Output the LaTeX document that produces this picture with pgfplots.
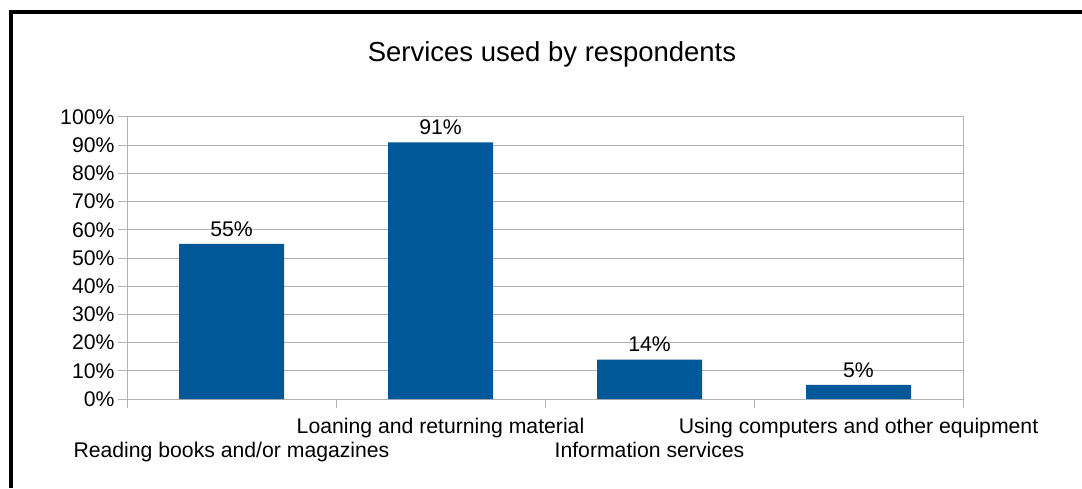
\documentclass[border=0pt]{standalone}
\usepackage{fontspec}
\setmainfont{Liberation Sans}
\usepackage{pgfplots}
\pgfplotsset{compat=1.18}
\definecolor{barblue}{RGB}{0,88,152}
\definecolor{gridgray}{RGB}{179,179,179}
\begin{document}
\begin{tikzpicture}[x=1pt,y=1pt]
\useasboundingbox (0,0) rectangle (1082,488);
\draw[line width=4pt] (10.5,0) -- (10.5,476) -- (1082,476);
\node[font=\fontsize{27.5}{32}\selectfont, anchor=base] at (552,426) {Services used by respondents};
\begin{axis}[
  at={(127pt,89pt)}, anchor=south west,
  scale only axis, width=836pt, height=282pt,
  xmin=-0.5, xmax=3.5, ymin=0, ymax=100,
  axis line style={gridgray, line width=1pt},
  ytick={0,10,...,100},
  yticklabel={\pgfmathprintnumber{\tick}\%},
  /pgf/number format/assume math mode=true,
  ymajorgrids, grid style={gridgray, line width=1pt},
  tick align=outside, ytick pos=left, xtick pos=bottom,
  major tick length=9pt,
  tick style={gridgray, line width=1pt},
  yticklabel style={font=\fontsize{21.2}{24}\selectfont},
  xtick={-0.5,0.5,1.5,2.5,3.5},
  xticklabels={},
  extra x ticks={0,1,2,3},
  extra x tick labels={{\strut\\\strut Reading books and/or magazines},{\strut Loaning and returning material},{\strut\\\strut Information services},{\strut Using computers and other equipment}},
  extra x tick style={grid=none, major tick length=0pt, tick style={draw=none}},
  xticklabel style={font=\fontsize{21.2}{24}\selectfont, align=center, yshift=-14pt},
  ybar, bar width=105pt,
  nodes near coords={\pgfmathprintnumber{\pgfplotspointmeta}\%},
  nodes near coords style={font=\fontsize{21.2}{24}\selectfont, black, yshift=4pt},
]
\addplot[fill=barblue, draw=none] coordinates {(0,55) (1,91) (2,14) (3,5)};
\end{axis}
\end{tikzpicture}
\end{document}
